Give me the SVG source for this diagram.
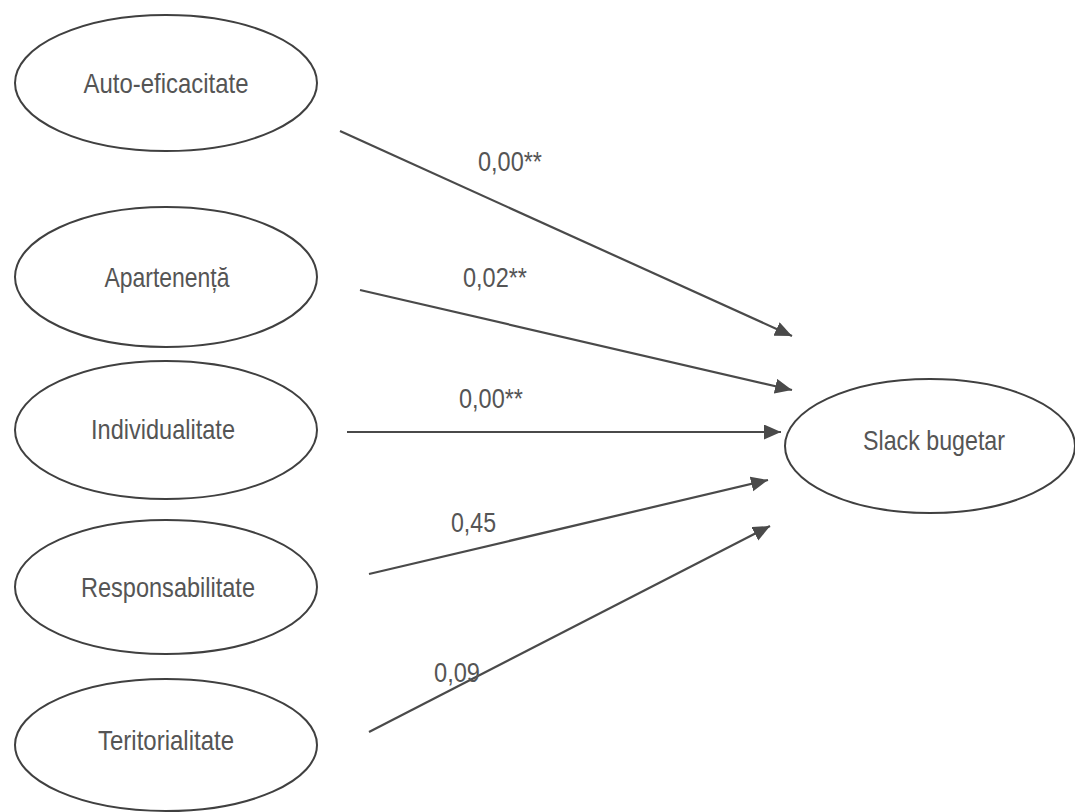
<svg xmlns="http://www.w3.org/2000/svg" width="1075" height="812" viewBox="0 0 1075 812">
<style>
.node ellipse{fill:#fff;stroke:#404040;stroke-width:2}
.node text,.lbl{font-family:"Liberation Sans",Arial,sans-serif;font-size:28px;fill:#555;}
.node text{text-anchor:middle}
.edge{stroke:#4a4a4a;stroke-width:2.2;fill:none;marker-end:url(#ah)}
</style>
<defs>
<marker id="ah" markerUnits="userSpaceOnUse" markerWidth="20" markerHeight="16" refX="17" refY="7.5" orient="auto">
<path d="M0,0 L17,7.5 L0,15 Z" fill="#4a4a4a"/>
</marker>
</defs>
<rect width="1075" height="812" fill="#fff"/>
<g id="connectors">
<line class="edge" x1="340" y1="131" x2="792" y2="336"/>
<line class="edge" x1="360" y1="290" x2="792" y2="390"/>
<line class="edge" x1="347" y1="432" x2="781" y2="432"/>
<line class="edge" x1="369" y1="574" x2="768" y2="480"/>
<line class="edge" x1="369" y1="732" x2="770" y2="526"/>
<text class="lbl" x="478" y="171" textLength="64" lengthAdjust="spacingAndGlyphs">0,00**</text>
<text class="lbl" x="463" y="287" textLength="64" lengthAdjust="spacingAndGlyphs">0,02**</text>
<text class="lbl" x="459" y="408" textLength="64" lengthAdjust="spacingAndGlyphs">0,00**</text>
<text class="lbl" x="451" y="532" textLength="45" lengthAdjust="spacingAndGlyphs">0,45</text>
<text class="lbl" x="434" y="682" textLength="46" lengthAdjust="spacingAndGlyphs">0,09</text>
</g>
<g id="n-auto" class="node">
<ellipse cx="166" cy="83" rx="151" ry="68"/>
<text x="166" y="93" textLength="165" lengthAdjust="spacingAndGlyphs">Auto-eficacitate</text>
</g>
<g id="n-apart" class="node">
<ellipse cx="166" cy="277" rx="151" ry="70"/>
<text x="167" y="287" textLength="125" lengthAdjust="spacingAndGlyphs">Apartenență</text>
</g>
<g id="n-indiv" class="node">
<ellipse cx="166" cy="430" rx="151" ry="69"/>
<text x="163" y="439" textLength="144" lengthAdjust="spacingAndGlyphs">Individualitate</text>
</g>
<g id="n-resp" class="node">
<ellipse cx="166" cy="587" rx="151" ry="67"/>
<text x="168" y="597" textLength="174" lengthAdjust="spacingAndGlyphs">Responsabilitate</text>
</g>
<g id="n-terit" class="node">
<ellipse cx="166" cy="745" rx="151" ry="66"/>
<text x="166" y="750" textLength="136" lengthAdjust="spacingAndGlyphs">Teritorialitate</text>
</g>
<g id="n-slack" class="node">
<ellipse cx="930" cy="446" rx="145" ry="67"/>
<text x="934" y="450" textLength="142" lengthAdjust="spacingAndGlyphs">Slack bugetar</text>
</g>
</svg>
